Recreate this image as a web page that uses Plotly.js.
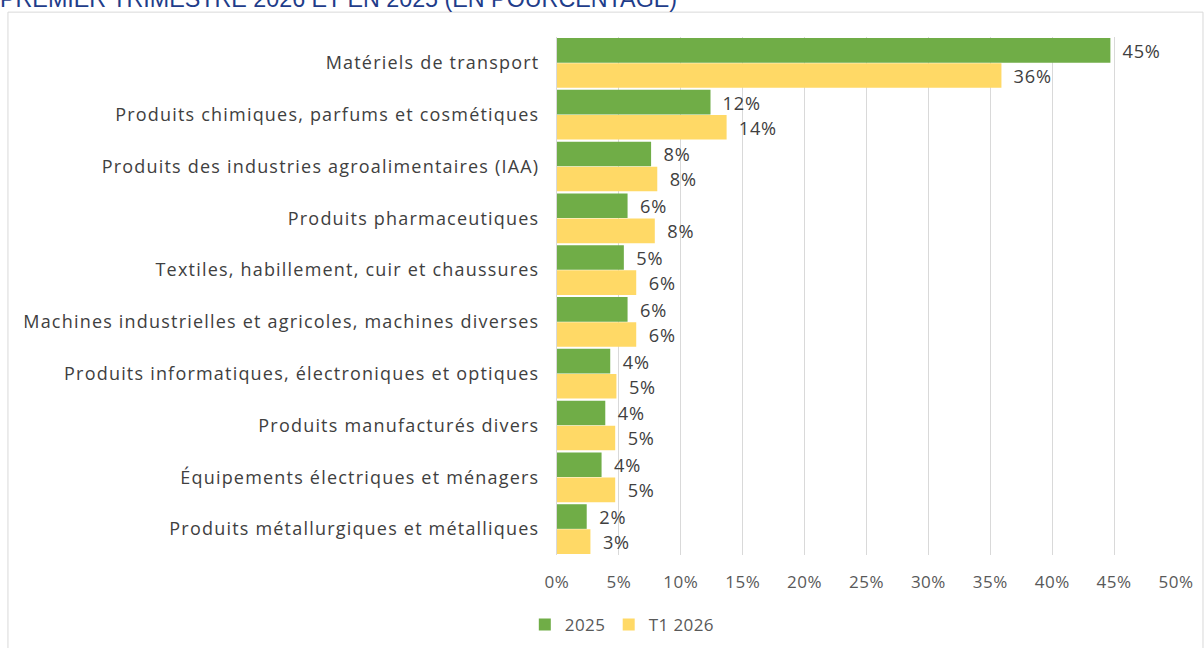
<!DOCTYPE html>
<html>
<head>
<meta charset="utf-8">
<script src="https://cdn.plot.ly/plotly-3.0.1.min.js"></script>
<style>
  html, body { margin: 0; padding: 0; background: #ffffff; }
  #chart { width: 1204px; height: 648px; }
  /* the reference labels are set wide */
  #chart .ytick text { letter-spacing: 1.2px; }
  #chart .bartext { letter-spacing: 0.8px; }
  #chart .xtick text { letter-spacing: 0.5px; }
  #chart .legendtext { letter-spacing: 0.4px; }
</style>
</head>
<body>
<div id="chart"></div>
<script>
"use strict";

// categories, top to bottom
var categories = [
    "Matériels de transport",
    "Produits chimiques, parfums et cosmétiques",
    "Produits des industries agroalimentaires (IAA)",
    "Produits pharmaceutiques",
    "Textiles, habillement, cuir et chaussures",
    "Machines industrielles et agricoles, machines diverses",
    "Produits informatiques, électroniques et optiques",
    "Produits manufacturés divers",
    "Équipements électriques et ménagers",
    "Produits métallurgiques et métalliques"
];

var values2025 = [44.7, 12.4, 7.6, 5.7, 5.4, 5.7, 4.3, 3.9, 3.6, 2.4];
var valuesT12026 = [35.9, 13.7, 8.1, 7.9, 6.4, 6.4, 4.8, 4.7, 4.7, 2.7];

var xTicks = [0, 5, 10, 15, 20, 25, 30, 35, 40, 45, 50];
var xTickLabels = xTicks.map(function (v) { return v + "%"; });

var titleText = "PREMIER TRIMESTRE 2026 ET EN 2025 (EN POURCENTAGE)";

var fontName = "Open Sans, sans-serif";
var labelFont = { family: fontName, size: 18.5, color: "#404040" };

function MakeTrace(name, values, color) {
    return {
        type: "bar",
        orientation: "h",
        name: name,
        y: categories,
        x: values,
        marker: { color: color },
        text: values,
        texttemplate: "\u00a0\u00a0%{x:.0f}%",
        textposition: "outside",
        cliponaxis: false,
        textfont: labelFont,
        hoverinfo: "skip"
    };
}

var data = [
    MakeTrace("2025", values2025, "#70ad47"),
    MakeTrace("T1 2026", valuesT12026, "#ffd966")
];

var layout = {
    width: 1204,
    height: 648,
    margin: { l: 557, r: 28, t: 37, b: 93, autoexpand: false },
    paper_bgcolor: "#ffffff",
    plot_bgcolor: "#ffffff",
    barmode: "group",
    bargap: 0.03,
    bargroupgap: 0.02,
    showlegend: true,
    legend: {
        orientation: "h",
        x: -0.052, xanchor: "left",
        y: -0.135, yanchor: "middle",
        traceorder: "normal",
        font: { family: fontName, size: 17, color: "#595959" },
        itemwidth: 30
    },
    xaxis: {
        range: [0, 50],
        tickvals: xTicks,
        ticktext: xTickLabels,
        showgrid: true,
        gridcolor: "#d9d9d9",
        gridwidth: 1,
        zeroline: false,
        showline: false,
        ticks: "outside",
        ticklen: 12,
        tickcolor: "rgba(0,0,0,0)",
        tickfont: { family: fontName, size: 17, color: "#595959" },
        fixedrange: true
    },
    yaxis: {
        autorange: "reversed",
        showgrid: false,
        zeroline: false,
        showline: true,
        linecolor: "#d9d9d9",
        linewidth: 1,
        ticks: "outside",
        ticklen: 13,
        tickcolor: "rgba(0,0,0,0)",
        tickfont: { family: fontName, size: 18, color: "#404040" },
        fixedrange: true
    },
    shapes: [{
        type: "rect",
        xref: "paper", yref: "paper",
        x0: -0.887, x1: 1.0436,
        y0: -0.2, y1: 1.048,
        line: { color: "#d9d9d9", width: 1 },
        fillcolor: "rgba(0,0,0,0)",
        layer: "below"
    }],
    annotations: [{
        text: titleText,
        xref: "paper", yref: "paper",
        x: -0.903, xanchor: "left",
        y: 1.073, yanchor: "middle",
        showarrow: false,
        font: { family: "Liberation Sans, Arial, sans-serif", size: 23.3, color: "#1f3d8a" }
    }]
};

Plotly.newPlot("chart", data, layout, { displayModeBar: false, staticPlot: true });
</script>
</body>
</html>
